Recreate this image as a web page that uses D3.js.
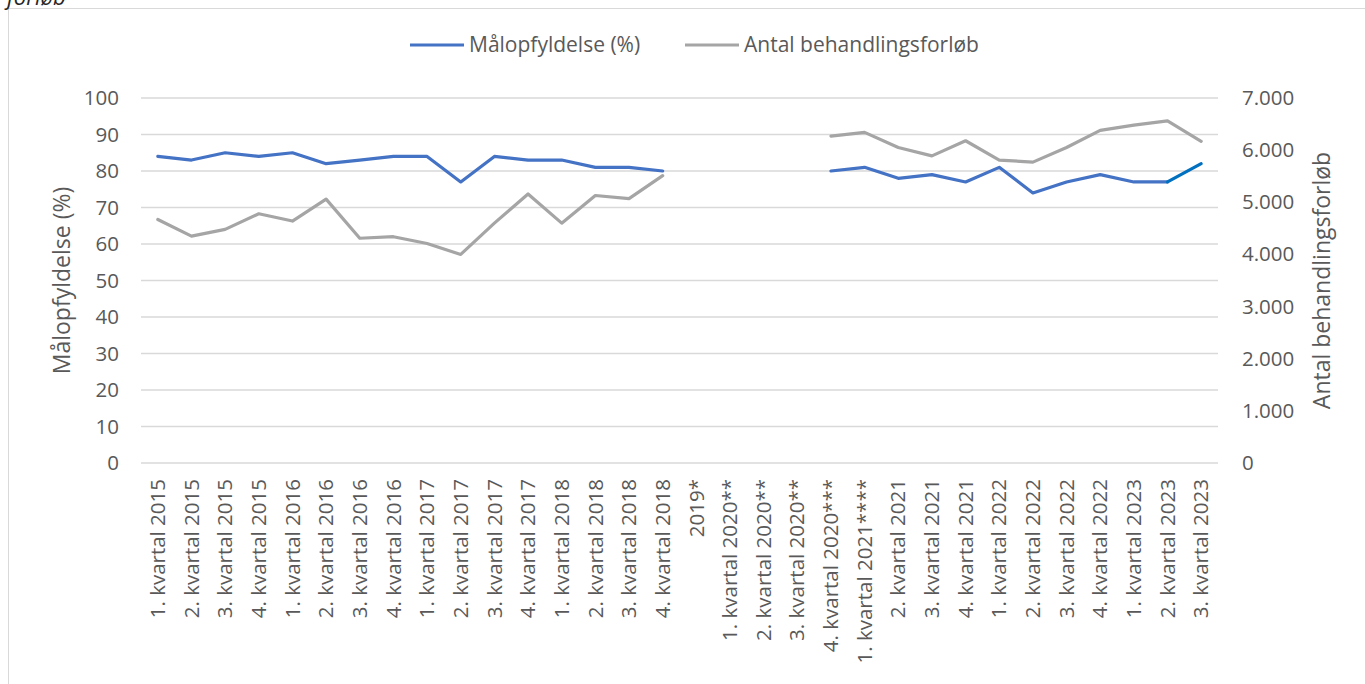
<!DOCTYPE html>
<html>
<head>
<meta charset="utf-8">
<script src="https://cdn.jsdelivr.net/npm/d3@7"></script>
<style>
  body { margin:0; background:#fff; }
  svg { display:block; font-family: "Open Sans", sans-serif; }
</style>
</head>
<body>
<div id="chart"></div>
<script>
// kategorier på x-aksen
let categories = [
  "1. kvartal 2015","2. kvartal 2015","3. kvartal 2015","4. kvartal 2015",
  "1. kvartal 2016","2. kvartal 2016","3. kvartal 2016","4. kvartal 2016",
  "1. kvartal 2017","2. kvartal 2017","3. kvartal 2017","4. kvartal 2017",
  "1. kvartal 2018","2. kvartal 2018","3. kvartal 2018","4. kvartal 2018",
  "2019*","1. kvartal 2020**","2. kvartal 2020**","3. kvartal 2020**",
  "4. kvartal 2020***","1. kvartal 2021****","2. kvartal 2021","3. kvartal 2021",
  "4. kvartal 2021","1. kvartal 2022","2. kvartal 2022","3. kvartal 2022",
  "4. kvartal 2022","1. kvartal 2023","2. kvartal 2023","3. kvartal 2023"
]
// Målopfyldelse (%)
let malopfyldelse = [84,83,85,84,85,82,83,84,84,77,84,83,83,81,81,80,
  null,null,null,null,
  80,81,78,79,77,81,74,77,79,77,77,82]
// Antal behandlingsforløb
let forloeb = [4670,4350,4480,4780,4640,5060,4310,4340,4210,4000,4600,5160,4600,5130,5070,5510,
  null,null,null,null,
  6270,6340,6050,5890,6180,5810,5770,6050,6380,6480,6560,6170]
let leftTicks = [0,10,20,30,40,50,60,70,80,90,100]
let rightTicks = [0,1000,2000,3000,4000,5000,6000,7000]
// sidste stykke af den blå linje har en anden farve
let highlightFrom = 30

let width = 1365, height = 684,
    margin = { top:98, left:141, right:147, bottom:221 },
    innerWidth = width - margin.left - margin.right,
    innerHeight = height - margin.top - margin.bottom

let blue = "#4472C4", blue2 = "#0070C0", grey = "#A5A5A5", txt = "#595959"

let svg = d3.select("#chart").append("svg").attr("width",width).attr("height",height)

// ramme og afskåret tekst foroven
svg.append("rect").attr("x",8.5).attr("y",8.5).attr("width",1400).attr("height",700)
  .attr("fill","none").attr("stroke","#D9D9D9")
svg.append("text").attr("x",7).attr("y",5).text("forløb")
  .attr("font-style","italic").attr("font-size",22).attr("fill","#262626")

let g = svg.append("g").attr("transform",`translate(${margin.left},${margin.top})`)

let xScale = d3.scaleBand().domain(categories).range([0,innerWidth])
let yLeft = d3.scaleLinear().domain([0,100]).range([innerHeight,0])
let yRight = d3.scaleLinear().domain([0,7000]).range([innerHeight,0])
let cx = d => xScale(d) + xScale.bandwidth()/2

// gitterlinjer
g.append("g").selectAll("line").data(leftTicks).enter().append("line")
  .attr("x1",0).attr("x2",innerWidth)
  .attr("y1",d=>yLeft(d)).attr("y2",d=>yLeft(d))
  .attr("stroke","#D9D9D9").attr("stroke-width",1.3)

let yAxisL = d3.axisLeft(yLeft).tickValues(leftTicks).tickSize(0).tickPadding(22)
let yAxisR = d3.axisRight(yRight).tickValues(rightTicks).tickSize(0).tickPadding(24)
  .tickFormat(d => d3.format(",")(d).replace(/,/g,"."))
let xAxis = d3.axisBottom(xScale).tickSize(0)

let lg = g.append("g").call(yAxisL)
let rg = g.append("g").attr("transform",`translate(${innerWidth},0)`).call(yAxisR)
let xg = g.append("g").attr("transform",`translate(0,${innerHeight})`).call(xAxis)
;[lg,rg,xg].forEach(a => {
  a.select(".domain").remove()
  a.selectAll("text").attr("fill",txt).attr("font-size",20.5).attr("font-family","Open Sans")
})
xg.selectAll("text")
  .attr("transform","rotate(-90)")
  .attr("text-anchor","end")
  .attr("x",-16).attr("y",0).attr("dy","0.35em")

// linjer
let rows = categories.map((c,i) => ({ c:c, i:i, p:malopfyldelse[i], n:forloeb[i] }))
let lineP = d3.line().defined(d => d.p != null).x(d => cx(d.c)).y(d => yLeft(d.p))
let lineN = d3.line().defined(d => d.n != null).x(d => cx(d.c)).y(d => yRight(d.n))

g.append("path").attr("d",lineN(rows)).attr("fill","none").attr("stroke",grey)
  .attr("stroke-width",3.2).attr("stroke-linejoin","round").attr("stroke-linecap","round")
g.append("path").attr("d",lineP(rows.slice(0,highlightFrom+1))).attr("fill","none").attr("stroke",blue)
  .attr("stroke-width",3.2).attr("stroke-linejoin","round").attr("stroke-linecap","round")
g.append("path").attr("d",lineP(rows.slice(highlightFrom))).attr("fill","none").attr("stroke",blue2)
  .attr("stroke-width",3.2).attr("stroke-linejoin","round").attr("stroke-linecap","round")

// aksetitler
svg.append("text").text("Målopfyldelse (%)")
  .attr("transform",`translate(70,${margin.top+innerHeight/2}) rotate(-90)`)
  .attr("text-anchor","middle").attr("font-size",23).attr("fill",txt)
svg.append("text").text("Antal behandlingsforløb")
  .attr("transform",`translate(1330,${margin.top+innerHeight/2}) rotate(-90)`)
  .attr("text-anchor","middle").attr("font-size",23).attr("fill",txt)

// forklaring
let legend = [{ name:"Målopfyldelse (%)", color:blue }, { name:"Antal behandlingsforløb", color:grey }]
let legX = [410,685]
legend.forEach((d,i) => {
  let lgi = svg.append("g").attr("transform",`translate(${legX[i]},45)`)
  lgi.append("line").attr("x1",0).attr("x2",54).attr("stroke",d.color).attr("stroke-width",3.2)
  lgi.append("text").attr("x",59).attr("dy","0.35em").text(d.name).attr("font-size",21).attr("fill",txt)
})
</script>
</body>
</html>
